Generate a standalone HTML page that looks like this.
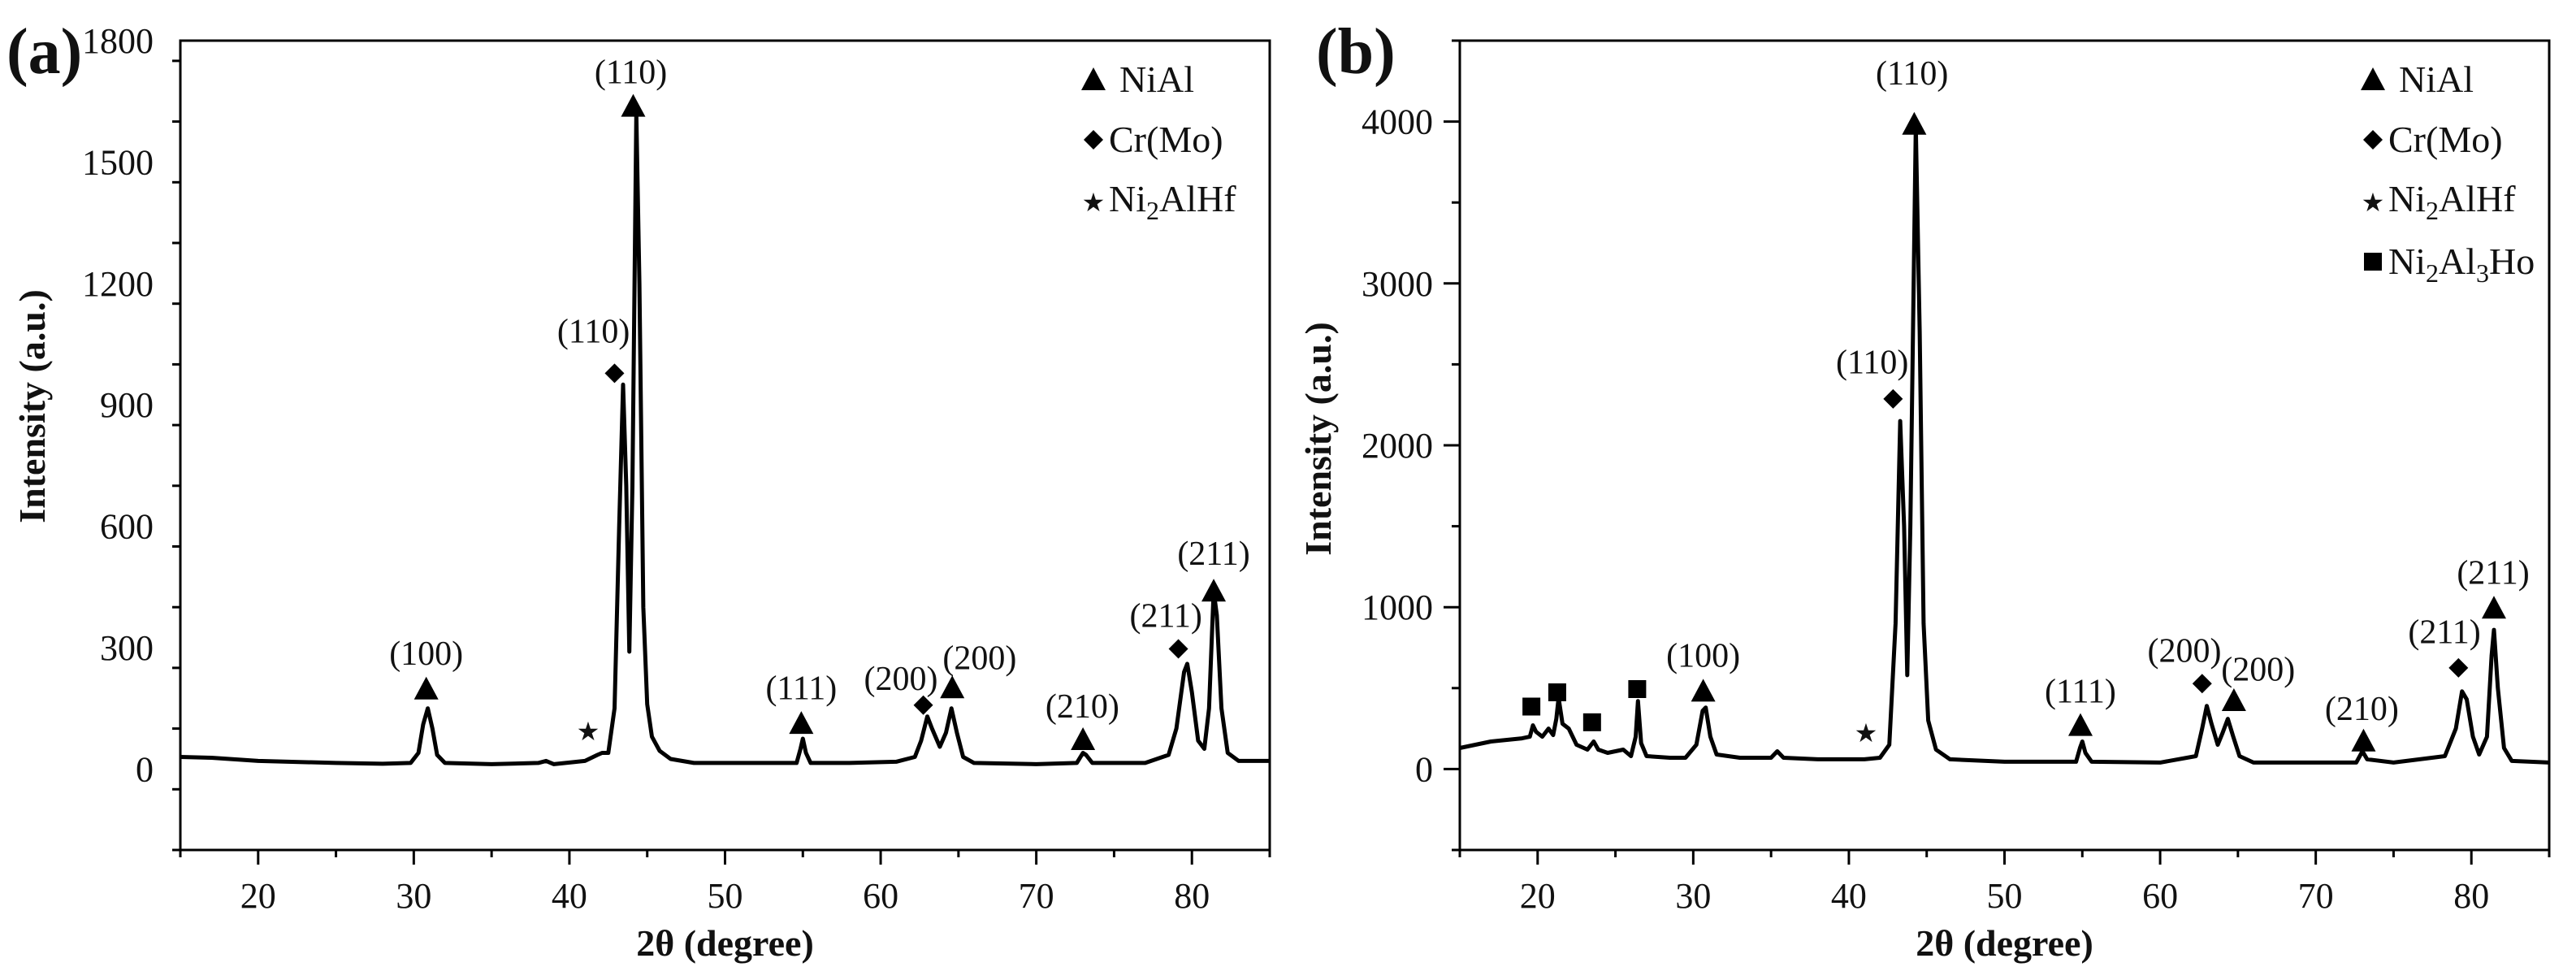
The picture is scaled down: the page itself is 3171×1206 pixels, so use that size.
<!DOCTYPE html>
<html><head><meta charset="utf-8"><style>
html,body{margin:0;padding:0;background:#fff;}
svg{display:block;}
text{font-family:"Liberation Serif",serif;fill:#111;}
</style></head><body>
<svg id="fig" width="3171" height="1206" viewBox="0 0 3171 1206" xmlns="http://www.w3.org/2000/svg"></svg>
<script>
// ---------- data ----------
const xTicks = [20,30,40,50,60,70,80];
const aYTicks = [0,300,600,900,1200,1500,1800];
const bYTicks = [0,1000,2000,3000,4000];
const aTheta = [15,17,20,25,28,29.8,30.3,30.6,30.9,31.2,31.5,32,35,38,38.5,39,41,41.8,42.1,42.5,42.9,43.2,43.45,43.65,43.85,44.05,44.3,44.5,44.75,45,45.3,45.8,46.5,48,52,54.6,54.85,55,55.2,55.5,58,61,62.2,62.6,63,63.3,63.8,64.2,64.55,64.9,65.3,66,70,72.6,73,73.2,73.6,77,78.5,79,79.5,79.7,80,80.4,80.8,81.1,81.4,81.6,81.9,82.3,83,85];
const aInt = [30,28,20,15,13,15,40,110,150,100,35,15,12,15,20,12,20,35,40,40,150,600,950,700,290,700,1620,1200,400,160,80,45,25,15,15,15,50,75,40,15,15,18,30,70,130,100,55,90,150,90,30,15,12,15,40,35,15,15,35,100,240,260,190,70,50,150,440,380,150,40,20,20];
const bTheta = [15,17,19,19.5,19.7,19.9,20.3,20.7,21,21.2,21.35,21.6,22,22.5,23.2,23.6,23.9,24.5,25.5,26,26.3,26.45,26.65,27,28.5,29.5,30.2,30.6,30.8,31.1,31.5,33,35,35.4,35.8,38,41,42,42.6,43,43.3,43.55,43.75,43.95,44.3,44.55,44.8,45.1,45.6,46.5,50,54.6,54.85,55,55.2,55.6,60,62.3,62.7,63,63.3,63.7,64,64.35,64.7,65.1,66,72.6,73,73.3,75,78.3,79,79.4,79.7,80.1,80.5,81,81.3,81.45,81.7,82.1,82.6,85];
const bInt = [130,170,190,200,270,230,200,250,210,310,440,280,250,150,120,170,120,100,120,80,200,420,160,80,70,70,150,360,380,200,90,70,70,110,70,60,60,70,150,900,2150,1500,580,1500,3970,2700,900,300,120,60,45,45,130,170,100,45,40,80,250,390,280,150,220,310,200,80,40,40,110,60,40,80,250,480,430,200,90,200,700,860,500,130,50,40];
const aMarkTypes = ['tri','star','dia','tri','tri','dia','tri','tri','dia','tri'];
const aMarkX = [30.8,41.2,42.9,44.1,54.9,62.74,64.6,73.0,79.13,81.4];
const aMarkY = [198,93,978,1638,113,158,201,73,297,440];
const aLabels = ['(100)','','(110)','(110)','(111)','(200)','(200)','(210)','(211)','(211)'];
const aLabelX = [30.8,0,41.55,43.95,54.9,61.3,66.36,72.96,78.33,81.4];
const aLabelY = [286,0,1082,1723,201,224,275,155,379,533];
const bMarkTypes = ['sq','sq','sq','sq','tri','star','dia','tri','tri','dia','tri','tri','dia','tri'];
const bMarkX = [19.6,21.26,23.5,26.4,30.64,41.1,42.84,44.2,54.88,62.7,64.74,73.07,79.17,81.45];
const bMarkY = [386,474,289,494,482,224,2287,3984,270,528,424,174,625,995];
const bLabels = ['','','','','(100)','','(110)','(110)','(111)','(200)','(200)','(210)','(211)','(211)'];
const bLabelX = [0,0,0,0,30.64,0,41.5,44.06,54.88,61.56,66.3,72.96,78.27,81.4];
const bLabelY = [0,0,0,0,702,0,2515,4300,482,733,617,374,849,1215];
const aLegend = ['NiAl','Cr(Mo)','Ni2AlHf'];
const bLegend = ['NiAl','Cr(Mo)','Ni2AlHf','Ni2Al3Ho'];

// ---------- drawing ----------
const NS='http://www.w3.org/2000/svg';
const svg=document.getElementById('fig');
function mk(tag,attrs,parent){const e=document.createElementNS(NS,tag);for(const k in attrs)e.setAttribute(k,attrs[k]);(parent||svg).appendChild(e);return e;}

function marker(g,type,cx,cy){
  let e;
  if(type==='tri'){e=mk('polygon',{points:`${cx-15},${cy+13} ${cx+15},${cy+13} ${cx},${cy-15}`,fill:'#000'},g);}
  else if(type==='dia'){e=mk('polygon',{points:`${cx},${cy-12} ${cx+12},${cy} ${cx},${cy+12} ${cx-12},${cy}`,fill:'#000'},g);}
  else if(type==='sq'){e=mk('rect',{x:cx-11,y:cy-11,width:22,height:22,fill:'#000'},g);}
  else {e=mk('text',{x:cx,y:cy+11,'font-size':32,'text-anchor':'middle'},g);e.textContent='★';}
  return e;
}
function legendLabel(name){
  if(name==='Ni2AlHf')return [['Ni',0],['2',1],['AlHf',0]];
  if(name==='Ni2Al3Ho')return [['Ni',0],['2',1],['Al',0],['3',1],['Ho',0]];
  return [[name,0]];
}

function panel(p){
  const g=mk('g',{});
  
  
  const L=p.left,R=p.right,T=50,B=1046;
  const sx=v=>L+(v-15)/(85-15)*(R-L);
  const sy=v=>B-(v-p.ymin)/(p.ymax-p.ymin)*(B-T);
  const fr=mk('rect',{x:L,y:T,width:R-L,height:B-T,fill:'none',stroke:'#000','stroke-width':3},g);
  
  
  for(let v=15;v<=85;v+=5){
    const major=v%10===0;
    mk('line',{x1:sx(v),x2:sx(v),y1:B,y2:B+(major?18:9),stroke:'#000','stroke-width':3},g);
  }
  xTicks.forEach(v=>{
    const t=mk('text',{x:sx(v),y:1117,'font-size':44,'text-anchor':'middle'},g);
    t.textContent=v;
    
    
  });
  for(let v=p.ymin;v<=p.ymax;v+=p.minor){
    const major=(v%p.major)===0;
    mk('line',{x1:L,x2:L-(major?20:10),y1:sy(v),y2:sy(v),stroke:'#000','stroke-width':3},g);
  }
  p.yTicks.forEach(v=>{
    const t=mk('text',{x:L-33,y:sy(v)+15,'font-size':44,'text-anchor':'end'},g);
    t.textContent=v;
    
    
  });
  const yt=mk('text',{x:0,y:0,'font-size':46,'font-weight':'bold','text-anchor':'middle',transform:`translate(${p.ytx},${p.yty}) rotate(-90)`},g);
  yt.textContent='Intensity (a.u.)';
  
  
  const xt=mk('text',{x:(L+R)/2,y:1176,'font-size':46,'font-weight':'bold','text-anchor':'middle'},g);
  xt.textContent='2θ  (degree)';
  
  
  const pl=mk('text',{x:p.tagx,y:90,'font-size':80,'font-weight':'bold'},g);
  pl.textContent=p.tag;
  
  
  const pts=p.xs.map((x,i)=>`${sx(x).toFixed(1)},${sy(p.ys[i]).toFixed(1)}`).join(' ');
  const c=mk('polyline',{points:pts,fill:'none',stroke:'#000','stroke-width':5,'stroke-linejoin':'round'},g);
  
  
  p.mt.forEach((tp,i)=>{
    const m=marker(g,tp,sx(p.mx[i]),sy(p.my[i]));
    
    
    if(p.lab[i]){
      const t=mk('text',{x:sx(p.lx[i]),y:sy(p.ly[i])+14,'font-size':42,'text-anchor':'middle'},g);
      t.textContent=p.lab[i];
      
      
    }
  });
  const types=['tri','dia','star','sq'];
  const baselines=[113,187,260,337];
  p.legend.forEach((name,i)=>{
    const lg=mk('g',{},g);
    
    
    const mx=L+1124;
    if(types[i]==='star'){const s=mk('text',{x:mx,y:baselines[i],'font-size':32,'text-anchor':'middle'},lg);s.textContent='★';}
    else marker(lg,types[i],mx,baselines[i]-15);
    const t=mk('text',{x:L+(types[i]==='tri'?1156:1143),y:baselines[i],'font-size':46},lg);
    let prevSub=false;
    legendLabel(name).forEach(([s,sub])=>{
      const ts=mk('tspan',sub?{'font-size':32,dy:10}:{dy:prevSub?-10:0},t);
      ts.textContent=s;
      prevSub=!!sub;
    });
  });
}

panel({name:'panel-a',left:222,right:1563,ymin:-200,ymax:1800,minor:150,major:300,yTicks:aYTicks,
  ytx:55,yty:500,tag:'(a)',tagx:8,xs:aTheta,ys:aInt,mt:aMarkTypes,mx:aMarkX,my:aMarkY,lab:aLabels,lx:aLabelX,ly:aLabelY,legend:aLegend});
panel({name:'panel-b',left:1797,right:3138,ymin:-500,ymax:4500,minor:500,major:1000,yTicks:bYTicks,
  ytx:1638,yty:540,tag:'(b)',tagx:1620,xs:bTheta,ys:bInt,mt:bMarkTypes,mx:bMarkX,my:bMarkY,lab:bLabels,lx:bLabelX,ly:bLabelY,legend:bLegend});
</script>
</body></html>
